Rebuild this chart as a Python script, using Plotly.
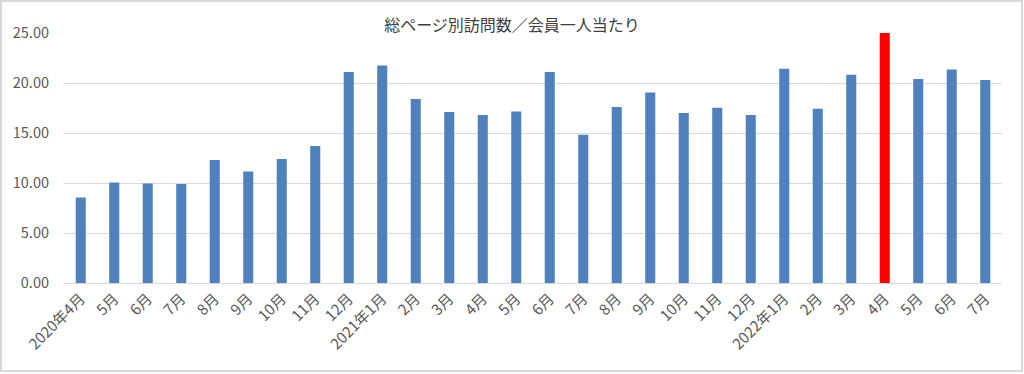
import plotly.graph_objects as go

categories = ["2020年4月", "5月", "6月", "7月", "8月", "9月", "10月", "11月", "12月",
              "2021年1月", "2月", "3月", "4月", "5月", "6月", "7月", "8月", "9月", "10月", "11月", "12月",
              "2022年1月", "2月", "3月", "4月", "5月", "6月", "7月"]
values = [8.56, 10.05, 9.96, 9.90, 12.30, 11.16, 12.40, 13.70, 21.10,
          21.76, 18.40, 17.10, 16.80, 17.16, 21.10, 14.83, 17.60, 19.06, 17.00, 17.53, 16.80,
          21.42, 17.42, 20.83, 25.00, 20.40, 21.36, 20.30]
highlight_index = 24
yticks = [0, 5, 10, 15, 20, 25]

W, H = 1024, 374
L, R, T, B = 64, 22, 33, 91
pw, ph = W - L - R, H - T - B

xs = list(range(len(categories)))
colors = ["#ff0000" if i == highlight_index else "#4f81bd" for i in xs]

fig = go.Figure(go.Bar(x=xs, y=values, marker=dict(color=colors, line=dict(width=0)),
                       hoverinfo="y"))

font_family = "Noto Sans CJK JP, Noto Sans, sans-serif"

def px_x(p):
    return (p - L) / pw

def px_y(p):
    return (H - B - p) / ph

fig.update_layout(
    width=W, height=H,
    margin=dict(l=L, r=R, t=T, b=B, autoexpand=False),
    paper_bgcolor="white", plot_bgcolor="white",
    bargap=0.7,
    showlegend=False,
    font=dict(family=font_family, color="#595959"),
    title=dict(text="総ページ別訪問数／会員一人当たり", x=0.5, xref="container", xanchor="center",
               y=1 - 25 / H, yref="container", yanchor="middle",
               font=dict(size=16, color="#404040", family=font_family)),
    shapes=[dict(type="rect", xref="paper", yref="paper",
                 x0=px_x(1), x1=px_x(1022), y0=px_y(371), y1=px_y(1),
                 line=dict(color="#d9d9d9", width=2), fillcolor="rgba(0,0,0,0)", layer="below")],
)
fig.update_xaxes(
    tickmode="array", tickvals=xs, ticktext=categories, tickangle=-45,
    range=[-0.5, len(categories) - 0.5],
    showgrid=False, showline=True, linecolor="#d9d9d9", linewidth=1,
    ticks="", tickfont=dict(size=15, color="#595959"),
    zeroline=False, automargin=False,
)
fig.update_yaxes(
    range=[0, 25], tickvals=yticks, tickformat=".2f",
    showgrid=True, gridcolor="#d9d9d9", gridwidth=1,
    zeroline=False, showline=False, ticks="",
    ticklabelstandoff=14, automargin=False,
    tickfont=dict(size=14.5, color="#595959"),
)

fig.write_html("out.html", config={"displayModeBar": False},
               post_script="document.body.style.margin='0';")
